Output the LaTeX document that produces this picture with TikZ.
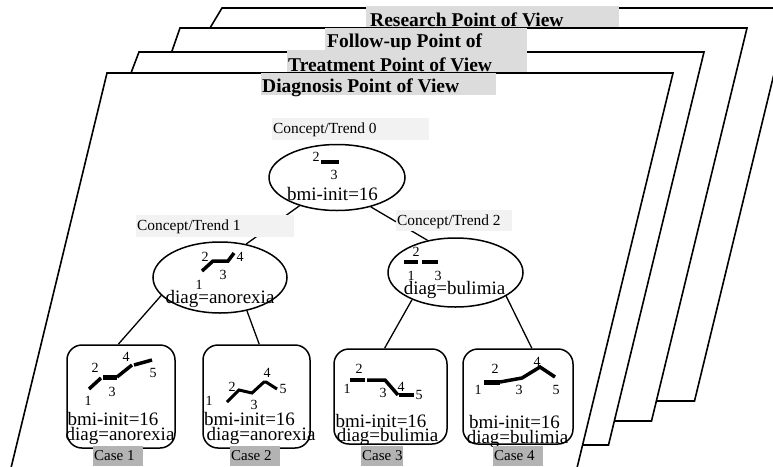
\documentclass[tikz,border=0pt]{standalone}
\usepackage{fontspec}
\setmainfont{Liberation Serif}
\usetikzlibrary{shapes.geometric}
\definecolor{titlegray}{HTML}{DCDCDC}
\definecolor{conceptgray}{HTML}{F2F2F2}
\definecolor{casegray}{HTML}{B3B3B3}
\newcommand\SheetFont{\fontsize{19.5}{19.5}\selectfont\bfseries}
\newcommand\ConceptFont{\fontsize{15.4}{15.4}\selectfont}
\newcommand\NodeFont{\fontsize{19}{19}\selectfont}
\newcommand\DigitFont{\fontsize{14}{14}\selectfont}
\newcommand\CaseFont{\fontsize{15}{15}\selectfont}

\begin{document}
\begin{tikzpicture}[x=1pt,y=-1pt,
  sheet/.style={draw=black,fill=white,line width=1.6pt,line join=miter},
  titlebox/.style={fill=titlegray},
  titletext/.style={anchor=base west,inner sep=0pt,font=\SheetFont},
  conceptbox/.style={fill=conceptgray},
  concepttext/.style={anchor=base west,inner sep=0pt,font=\ConceptFont},
  trendnode/.style={draw=black,line width=1.5pt,ellipse,inner sep=0pt},
  casenode/.style={draw=black,line width=1.5pt,rectangle,rounded corners=15pt,inner sep=0pt},
  link/.style={draw=black,line width=1.3pt},
  attr/.style={anchor=base,inner sep=0pt,font=\NodeFont},
  digit/.style={inner sep=0pt,font=\DigitFont},
  trend/.style={line width=3.5pt},
  boldtrend/.style={line width=5pt},
  casebox/.style={fill=casegray},
  casetext/.style={anchor=base west,inner sep=0pt,font=\CaseFont}]

\useasboundingbox (0,0) rectangle (773,466);
\clip (0,0) rectangle (773,466);

% --- stacked sheets, back to front ---
\draw[sheet] (222,8) -- (790,8) -- (694.5,401) -- (126.5,401) -- (210,28) -- cycle;
\fill[titlebox] (366,6) rectangle (619,28);
\node[titletext] (tResearch) at (370,26) {Research Point of View};

\draw[sheet] (180,28) -- (747,28) -- (651.5,421) -- (84.5,421) -- (172,51) -- cycle;
\fill[titlebox] (325,28) rectangle (527,50);
\node[titletext] (tFollow) at (327,47.5) {Follow-up Point of};

\draw[sheet] (139,52) -- (704,52) -- (608.5,445) -- (43.5,445) -- (131,73) -- cycle;
\fill[titlebox] (287,50) rectangle (527,73);
\node[titletext] (tTreat) at (288,71) {Treatment Point of View};

\draw[sheet] (107,73) -- (673,73) -- (576.5,470) -- (10.5,470) -- cycle;
\fill[titlebox] (261,73) rectangle (496,95);
\node[titletext] (tDiag) at (262,92) {Diagnosis Point of View};

% --- concept tree ---
\node[trendnode,minimum width=136pt,minimum height=66pt] (root) at (337,177.5) {};
\node[trendnode,minimum width=134pt,minimum height=71pt] (left) at (220,277.5) {};
\node[trendnode,minimum width=135pt,minimum height=69pt] (right) at (455.5,272.5) {};

\node[casenode,minimum width=108pt,minimum height=103pt] (case1) at (121,396.5) {};
\node[casenode,minimum width=107pt,minimum height=103pt] (case2) at (256.5,396.5) {};
\node[casenode,minimum width=113pt,minimum height=95pt] (case3) at (390.5,396.5) {};
\node[casenode,minimum width=110pt,minimum height=95pt] (case4) at (518,396.5) {};

\draw[link] (root.217) -- (left.52);
\draw[link] (root.319) -- (right.131);
\draw[link] (left.197) -- (case1.93);
\draw[link] (left.309) -- (case2.87);
\draw[link] (right.212) -- (case3.97);
\draw[link] (right.335) -- (case4.74);

% concept labels
\fill[conceptbox] (272,118) rectangle (429,140);
\node[concepttext] (c0) at (273,133.3) {Concept/Trend 0};
\fill[conceptbox] (136,215) rectangle (294,237);
\node[concepttext] (c1) at (137,230) {Concept/Trend 1};
\fill[conceptbox] (396,210) rectangle (512,231);
\node[concepttext] (c2) at (397,225.5) {Concept/Trend 2};

% root trend
\draw[trend] (321,162) -- (339,162);
\node[digit] (r2) at (316,157) {2};
\node[digit] (r3) at (334,175) {3};
\node[attr] (rAttr) at (332.5,200) {bmi-init=16};

% left trend
\draw[trend] (202,271) -- (213,261) -- (228,261) -- (234,253);
\node[digit] (l1) at (199,285) {1};
\node[digit] (l2) at (205,257) {2};
\node[digit] (l3) at (223,275) {3};
\node[digit] (l4) at (240,257) {4};
\node[attr] (lAttr) at (220,303) {diag=anorexia};

% right trend
\draw[trend] (404,262) -- (418,262);
\draw[trend] (422,262) -- (438,262);
\node[digit] (g1) at (411,276) {1};
\node[digit] (g2) at (416,252) {2};
\node[digit] (g3) at (438,276) {3};
\node[attr] (gAttr) at (454.5,294) {diag=bulimia};

% case 1
\draw[trend] (89,389) -- (101,378);
\draw[boldtrend] (103,377) -- (117,377);
\draw[trend] (117,377) -- (132,365);
\draw[trend] (134,365) -- (152,360);
\node[digit] (a1) at (88,401) {1};
\node[digit] (a2) at (95,368) {2};
\node[digit] (a3) at (112,392) {3};
\node[digit] (a4) at (126,357) {4};
\node[digit] (a5) at (153,373) {5};
\node[attr] (aB) at (113,425) {bmi-init=16};
\node[attr] (aD) at (120,440) {diag=anorexia};

% case 2
\draw[line width=3pt,line join=miter] (227,402) -- (239,390) -- (252,393) -- (264,382) -- (266,382) -- (277,389);
\node[digit] (b1) at (209,401) {1};
\node[digit] (b2) at (232,387) {2};
\node[digit] (b3) at (254,405) {3};
\node[digit] (b4) at (267,373) {4};
\node[digit] (b5) at (283,389) {5};
\node[attr] (bB) at (249.5,425) {bmi-init=16};
\node[attr] (bD) at (261,440) {diag=anorexia};

% case 3
\draw[trend] (350,380) -- (365,380);
\draw[trend] (367,380) -- (385,380) -- (398,395);
\draw[trend] (399,395) -- (414,395);
\node[digit] (d1) at (347,389) {1};
\node[digit] (d2) at (359,369) {2};
\node[digit] (d3) at (383,393) {3};
\node[digit] (d4) at (401,387) {4};
\node[digit] (d5) at (419,395) {5};
\node[attr] (dB) at (381,427) {bmi-init=16};
\node[attr] (dD) at (387.5,441.5) {diag=bulimia};

% case 4
\draw[boldtrend] (484,382) -- (500,382);
\draw[trend] (500,382) -- (522,378) -- (540,367) -- (555,377);
\node[digit] (e1) at (478,390) {1};
\node[digit] (e2) at (495,369) {2};
\node[digit] (e3) at (519,390) {3};
\node[digit] (e4) at (537,362) {4};
\node[digit] (e5) at (556,390) {5};
\node[attr] (eB) at (514.5,428) {bmi-init=16};
\node[attr] (eD) at (517.5,443) {diag=bulimia};

% case labels
\fill[casebox] (93,446) rectangle (143,466);
\node[casetext] (k1) at (94,460) {Case 1};
\fill[casebox] (230,446) rectangle (280,466);
\node[casetext] (k2) at (231,460) {Case 2};
\fill[casebox] (361,446) rectangle (403,466);
\node[casetext] (k3) at (362,460) {Case 3};
\fill[casebox] (493,446) rectangle (543,466);
\node[casetext] (k4) at (494,460) {Case 4};
\end{tikzpicture}
\end{document}
